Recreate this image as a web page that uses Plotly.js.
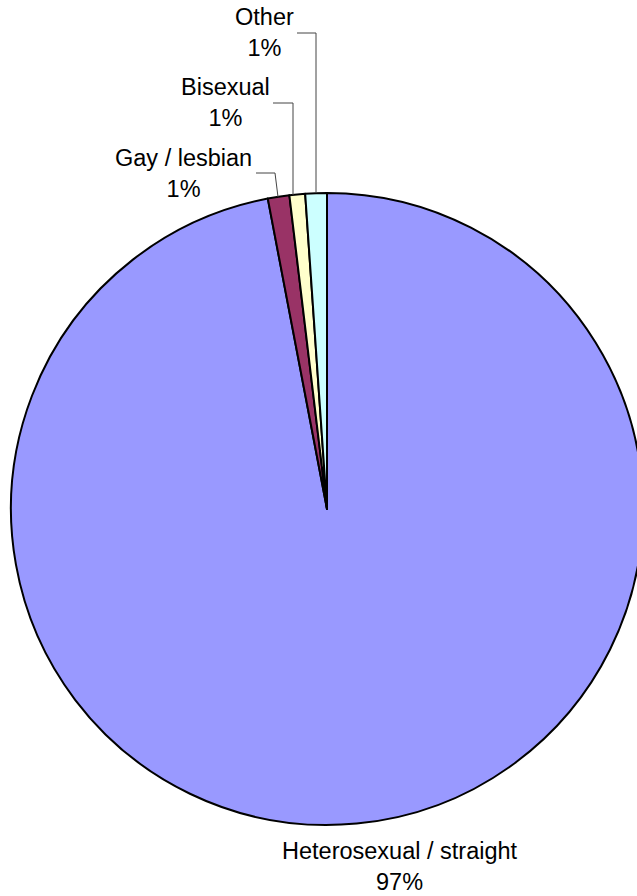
<!DOCTYPE html>
<html><head><meta charset="utf-8">
<script src="https://cdn.plot.ly/plotly-3.0.1.min.js"></script>
<style>html,body{margin:0;padding:0;overflow:hidden;background:#fff;width:637px;height:896px}#c{width:643px;height:896px}</style>
</head><body><div id="c"></div>
<script>
const categories = ['Heterosexual / straight', 'Gay / lesbian', 'Bisexual', 'Other'];
const values = [97.0, 1.1, 0.8, 1.1];
const colors = ['#9999FF', '#993366', '#FFFFCC', '#CCFFFF'];

const W = 643, H = 896;
const total = values.reduce((a, b) => a + b, 0);
const pct = values.map(v => Math.round(v / total * 100) + '%');

// label placement (pixels) and leader paths
const labelPos = [[400, 866], [183.5, 173], [225, 102.5], [264, 33]];
const leaders = [null,
  [[256, 173], [275, 173], [278, 197]],
  [[273, 103], [293, 103], [293, 195]],
  [[297, 33], [316, 33], [316, 193]]];

const px = x => x / W, py = y => 1 - y / H;

const annotations = categories.map((c, i) => ({
  x: px(labelPos[i][0]), y: py(labelPos[i][1]), xref: 'paper', yref: 'paper',
  xanchor: 'center', yanchor: 'middle', align: 'center', showarrow: false,
  text: c + '<br>' + pct[i],
  font: {family: 'Liberation Sans, Arial, sans-serif', size: 23.5, color: '#000'}
}));

const shapes = leaders.filter(l => l).map(l => ({
  type: 'path', xref: 'paper', yref: 'paper',
  path: 'M' + l.map(p => px(p[0]) + ',' + py(p[1])).join(' L'),
  line: {color: '#444', width: 1}
}));

Plotly.newPlot('c', [{
  type: 'pie', labels: categories, values: values, sort: false,
  direction: 'clockwise', rotation: 0, textinfo: 'none', hoverinfo: 'none',
  marker: {colors: colors, line: {color: '#000', width: 2}},
  domain: {x: [11 / W, 1], y: [(H - 825) / H, (H - 193) / H]}
}], {
  width: W, height: H, margin: {l: 0, r: 0, t: 0, b: 0},
  showlegend: false, paper_bgcolor: '#fff',
  annotations: annotations, shapes: shapes
}, {staticPlot: true});
</script></body></html>
